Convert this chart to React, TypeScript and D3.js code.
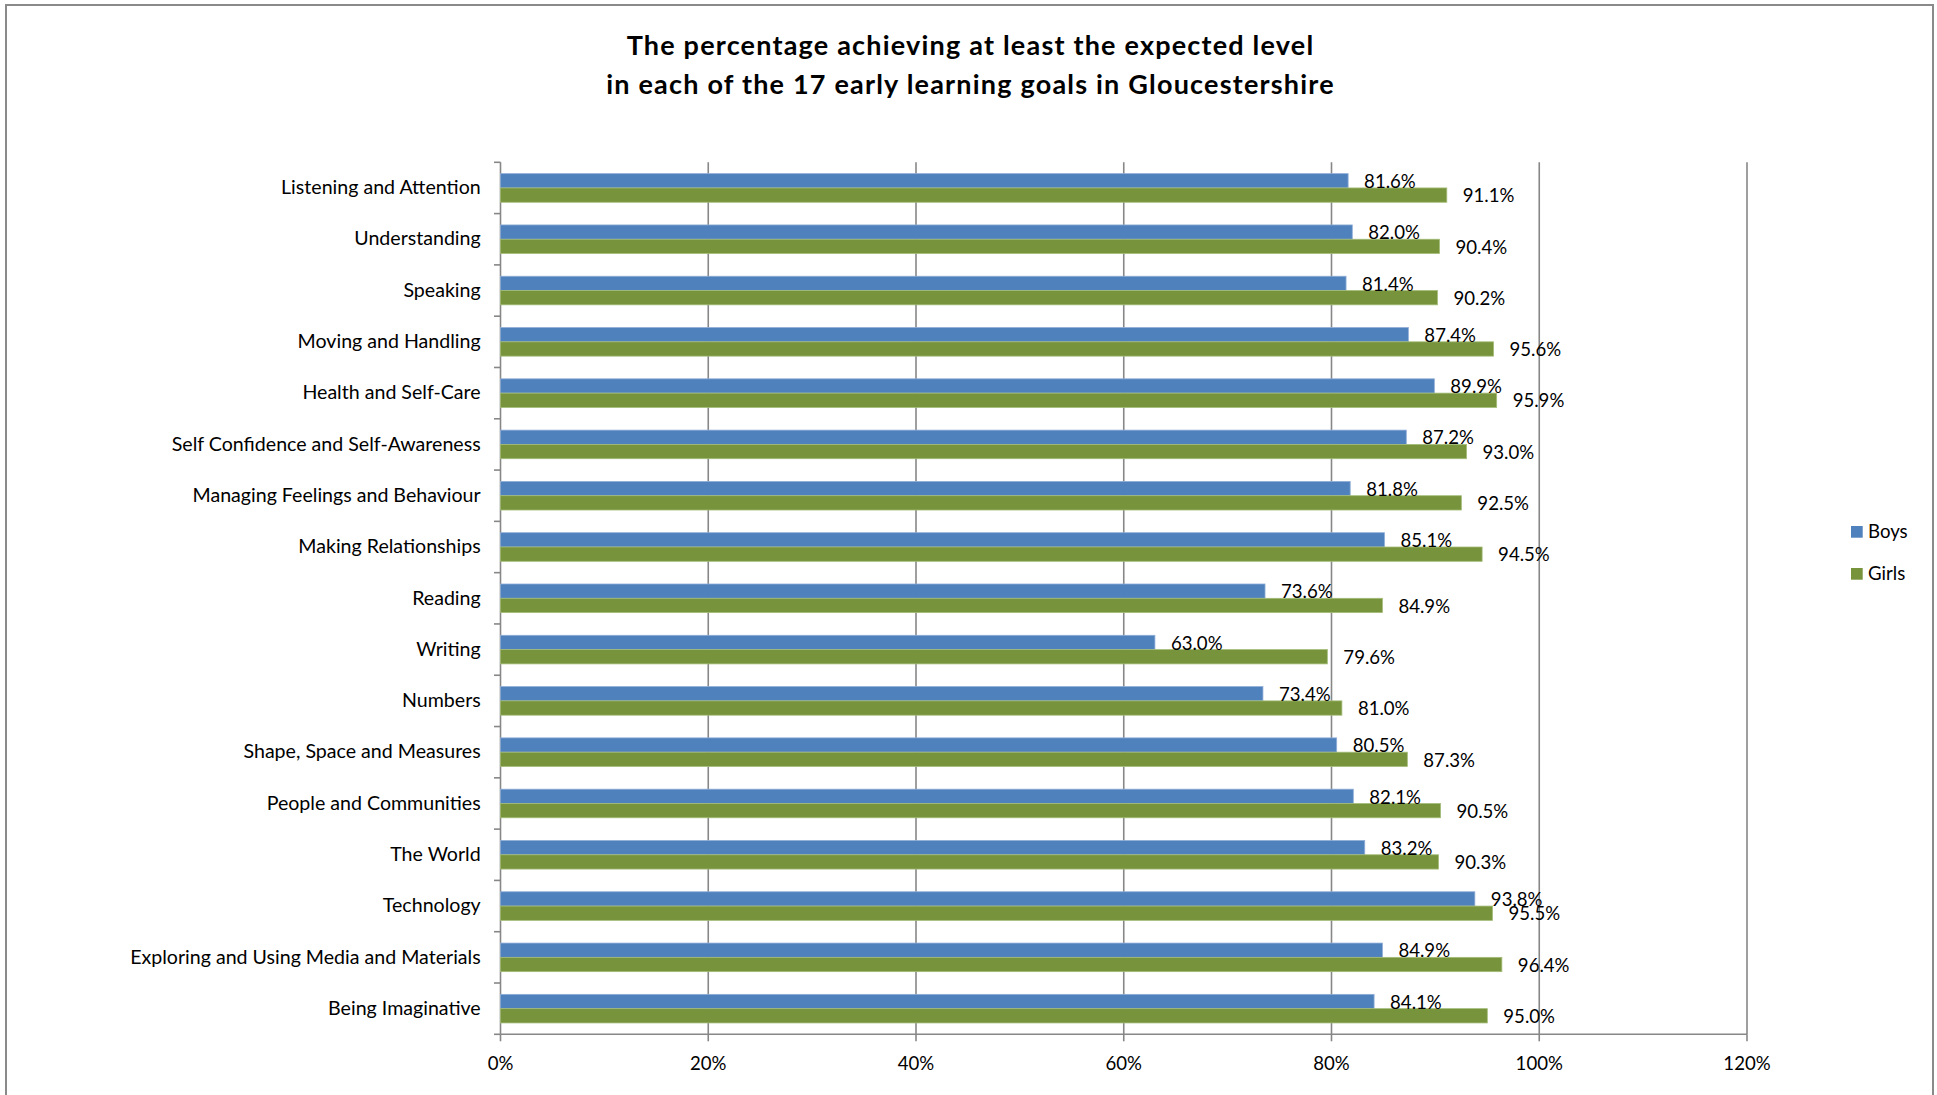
import React from 'react';
import * as d3 from 'd3';

const categories = [
  'Listening and Attention',
  'Understanding',
  'Speaking',
  'Moving and Handling',
  'Health and Self-Care',
  'Self Confidence and Self-Awareness',
  'Managing Feelings and Behaviour',
  'Making Relationships',
  'Reading',
  'Writing',
  'Numbers',
  'Shape, Space and Measures',
  'People and Communities',
  'The World',
  'Technology',
  'Exploring and Using Media and Materials',
  'Being Imaginative',
];

const boys = [81.6, 82.0, 81.4, 87.4, 89.9, 87.2, 81.8, 85.1, 73.6, 63.0, 73.4, 80.5, 82.1, 83.2, 93.8, 84.9, 84.1];
const girls = [91.1, 90.4, 90.2, 95.6, 95.9, 93.0, 92.5, 94.5, 84.9, 79.6, 81.0, 87.3, 90.5, 90.3, 95.5, 96.4, 95.0];

const seriesNames = ['Boys', 'Girls'];
const seriesColors = ['#4F81BD', '#77933C'];
const seriesStrokes = ['#8FADD6', '#A3BC78'];
const xTicks = [0, 20, 40, 60, 80, 100, 120];
const titleLines = [
  'The percentage achieving at least the expected level',
  'in each of the 17 early learning goals in Gloucestershire',
];

export default function App() {
  const W = 1937;
  const H = 1095;
  const x0 = 500.5;
  const x1 = 1747;
  const yTop = 162.3;
  const yBot = 1034.3;
  const font = 'Lato, Calibri, Carlito, sans-serif';
  const fs = 18.6;
  const catFs = 19.6;
  const grid = '#878787';

  const x = d3.scaleLinear().domain([0, 120]).range([x0, x1]);
  const y = d3
    .scaleBand<string>()
    .domain(categories)
    .range([yTop, yBot])
    .paddingInner(0.4425)
    .paddingOuter(0.22125);
  const ys = d3.scaleBand<string>().domain(seriesNames).range([0, y.bandwidth()]);
  const step = (yBot - yTop) / categories.length;
  const seriesData = [boys, girls];

  return (
    <svg
      width={W}
      height={H}
      style={{ position: 'absolute', left: 0, top: 0, background: '#fff' }}
      fontFamily={font}
    >
      <rect x={0} y={0} width={W} height={H} fill="#fff" />
      <rect x={6} y={5} width={1927} height={1200} fill="none" stroke="#8a8a8a" strokeWidth={2} />

      {titleLines.map((t, i) => (
        <text
          key={i}
          x={970.5}
          y={54.5 + i * 39.5}
          textAnchor="middle"
          fontWeight="bold"
          fontSize={27}
          letterSpacing={1.2}
          fill="#000"
        >
          {t}
        </text>
      ))}

      {/* gridlines */}
      {xTicks.map((t) => (
        <line key={'g' + t} x1={x(t)} x2={x(t)} y1={yTop} y2={yBot} stroke={grid} strokeWidth={1.6} />
      ))}
      {/* bottom axis */}
      <line x1={x0} x2={x1} y1={yBot} y2={yBot} stroke={grid} strokeWidth={1.6} />
      {xTicks.map((t) => (
        <line key={'xt' + t} x1={x(t)} x2={x(t)} y1={yBot} y2={yBot + 7} stroke={grid} strokeWidth={1.6} />
      ))}
      {xTicks.map((t) => (
        <text key={'xl' + t} x={x(t)} y={1069.7} textAnchor="middle" fontSize={fs} fill="#000">
          {t + '%'}
        </text>
      ))}
      {/* left axis ticks */}
      {d3.range(categories.length + 1).map((i) => (
        <line
          key={'yt' + i}
          x1={x0 - 6.5}
          x2={x0}
          y1={yTop + i * step}
          y2={yTop + i * step}
          stroke={grid}
          strokeWidth={1.6}
        />
      ))}
      {categories.map((c) => (
        <text
          key={'cl' + c}
          x={480.7}
          y={(y(c) as number) + y.bandwidth() / 2 + 6.2}
          textAnchor="end"
          fontSize={catFs}
          fill="#000"
        >
          {c}
        </text>
      ))}

      {/* bars */}
      {seriesData.map((vals, s) =>
        categories.map((c, i) => {
          const by = (y(c) as number) + (ys(seriesNames[s]) as number);
          const bh = ys.bandwidth();
          return (
            <rect
              key={'b' + s + '-' + i}
              x={x(0)}
              y={by}
              width={x(vals[i]) - x(0)}
              height={bh}
              fill={seriesColors[s]}
              stroke={seriesStrokes[s]}
              strokeWidth={0.8}
            />
          );
        })
      )}
      {/* data labels */}
      {seriesData.map((vals, s) =>
        categories.map((c, i) => {
          const by = (y(c) as number) + (ys(seriesNames[s]) as number);
          const bh = ys.bandwidth();
          return (
            <text
              key={'dl' + s + '-' + i}
              x={x(vals[i]) + 16}
              y={by + bh / 2 + 7.2}
              fontSize={fs}
              fill="#000"
            >
              {vals[i].toFixed(1) + '%'}
            </text>
          );
        })
      )}

      {/* legend */}
      {seriesNames.map((n, i) => (
        <g key={'lg' + n}>
          <rect x={1851} y={526 + i * 42} width={11.7} height={11.7} fill={seriesColors[i]} />
          <text x={1868} y={538.4 + i * 41.6} fontSize={fs} fill="#000">
            {n}
          </text>
        </g>
      ))}
    </svg>
  );
}
